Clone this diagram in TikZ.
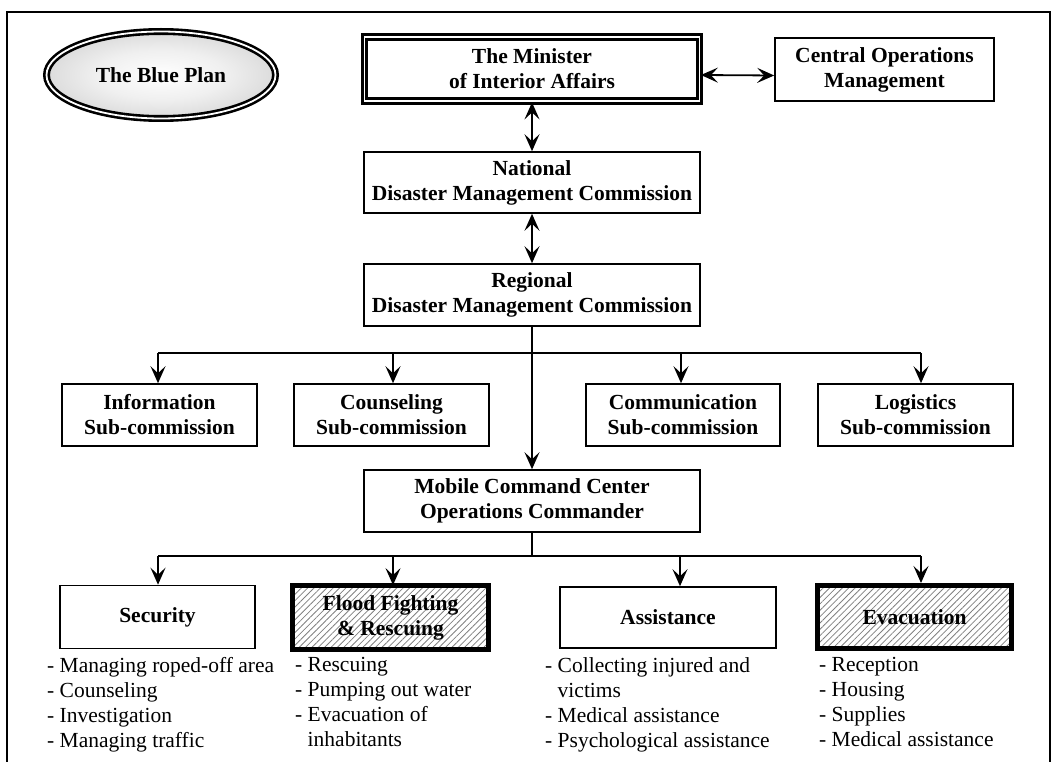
\documentclass[tikz,border=0pt]{standalone}
\usepackage{fontspec}
\setmainfont{Liberation Serif}
\usetikzlibrary{shapes.geometric,arrows.meta,patterns.meta}
\pgfdeclareradialshading{planshade}{\pgfpoint{0bp}{0bp}}{color(0bp)=(white); color(14bp)=(white!94!black); color(50bp)=(black!32); color(60bp)=(black!32)}
\begin{document}
\begin{tikzpicture}[x=1pt,y=-1pt,
    box/.style={draw,line width=1.6pt,align=center,inner sep=2pt,
      font=\fontsize{21.5}{25}\selectfont\bfseries},
    chief/.style={box,double,line width=2.8pt,double distance=1.8pt},
    duty/.style={box,line width=5pt,
      pattern={Lines[angle=45,distance=4.5pt,line width=0.8pt]},pattern color=gray},
    plan/.style={ellipse,draw,double,line width=2.6pt,double distance=1.8pt,
      shading=planshade,minimum width=229,minimum height=87,
      font=\fontsize{21.5}{25}\selectfont\bfseries},
    list/.style={align=left,inner sep=0pt,anchor=north west,
      font=\fontsize{21.5}{25}\selectfont},
    >={Stealth[length=17pt,width=15pt,inset=7pt]}]
  \useasboundingbox (0,0) rectangle (1052,762);
  \draw[line width=1.6pt] (7,762) -- (7,12) -- (1050,12) -- (1050,762);
  \draw
    (161,75) node[plan] (plan){The Blue Plan}
    (532,69) node[chief,minimum width=335,minimum height=64] (minister){The Minister\\of Interior Affairs}
    (884.5,69.5) node[box,minimum width=219,minimum height=63] (com){Central Operations\\Management}
    (532,182.5) node[box,minimum width=336,minimum height=61] (national){National\\Disaster Management Commission}
    (532,295) node[box,minimum width=336,minimum height=62] (regional){Regional\\Disaster Management Commission}
    (159.5,415) node[box,minimum width=195,minimum height=62] (info){Information\\Sub-commission}
    (391.5,415) node[box,minimum width=195,minimum height=62] (couns){Counseling\\Sub-commission}
    (683,415) node[box,minimum width=194,minimum height=62] (commun){Communication\\Sub-commission}
    (915.5,415) node[box,minimum width=195,minimum height=62] (logis){Logistics\\Sub-commission}
    (532,501) node[box,minimum width=336,minimum height=62] (mobile){Mobile Command Center\\Operations Commander}
    (157.5,617) node[box,minimum width=195,minimum height=63] (security){Security}
    (390.5,617.5) node[duty,minimum width=196,minimum height=64] (flood){Flood Fighting\\\& Rescuing}
    (668,617.5) node[box,minimum width=216,minimum height=61] (assist){Assistance}
    (914.5,617) node[duty,minimum width=194,minimum height=63] (evac){Evacuation}
    (47,657) node[list] (securitylist){- Managing roped-off area\\- Counseling\\- Investigation\\- Managing traffic}
    (295,657) node[list] (floodlist){- Rescuing\\- Pumping out water\\- Evacuation of\\\phantom{- }inhabitants}
    (545,657) node[list] (assistlist){- Collecting injured and\\\phantom{- }victims\\- Medical assistance\\- Psychological assistance}
    (819,657) node[list] (evaclist){- Reception\\- Housing\\- Supplies\\- Medical assistance};
  \coordinate (t1) at (158,353);
  \coordinate (t2) at (393,353);
  \coordinate (t3) at (681,353);
  \coordinate (t4) at (921,353);
  \coordinate (u0) at (532,556);
  \coordinate (u1) at (158,556);
  \coordinate (u2) at (393,556);
  \coordinate (u3) at (680,556);
  \coordinate (u4) at (921,556);
  \begin{scope}[line width=1.8pt]
    \draw[<->] ([yshift=-6pt]minister.east) to ([yshift=-6pt]com.west);
    \draw[<->] (minister) to (national);
    \draw[<->] (national) to (regional);
    \draw[->] (regional) to (mobile);
    \draw (t1) to (t4);
    \draw[->] (t1) to (t1 |- info.north);
    \draw[->] (t2) to (t2 |- couns.north);
    \draw[->] (t3) to (t3 |- commun.north);
    \draw[->] (t4) to (t4 |- logis.north);
    \draw (mobile) to (u0);
    \draw (u1) to (u4);
    \draw[->] (u1) to (u1 |- security.north);
    \draw[->] (u2) to (u2 |- flood.north);
    \draw[->] (u3) to (u3 |- assist.north);
    \draw[->] (u4) to (u4 |- evac.north);
  \end{scope}
\end{tikzpicture}
\end{document}
